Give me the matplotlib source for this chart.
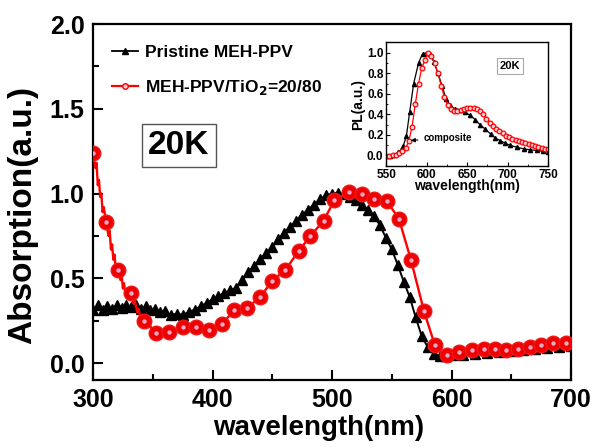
import matplotlib.pyplot as plt
from matplotlib.lines import Line2D
from matplotlib.ticker import MultipleLocator

plt.rcParams['font.family'] = ['Liberation Sans', 'DejaVu Sans']
plt.rcParams['font.weight'] = 'bold'
plt.rcParams['mathtext.default'] = 'bf'

# Main absorption spectra at 20K
pristine_nm = [300, 304, 308, 312, 316, 320, 324, 328, 332, 336, 340, 344, 348, 352, 356, 360,
               365, 370, 375, 380, 385, 390, 395, 400, 405, 410, 415, 420, 425, 430, 435, 440,
               445, 450, 455, 460, 465, 470, 475, 480, 485, 490, 495, 500, 505, 510, 515, 520,
               525, 530, 535, 540, 545, 550, 555, 560, 565, 570, 575, 580, 585, 590, 595, 600,
               610, 620, 630, 640, 650, 660, 670, 680, 690, 700]
pristine_abs = [0.31, 0.34, 0.31, 0.335, 0.32, 0.345, 0.325, 0.34, 0.33, 0.345, 0.32, 0.335, 0.31, 0.32,
                0.30, 0.305, 0.285, 0.29, 0.285, 0.30, 0.315, 0.335, 0.355, 0.375, 0.395, 0.415,
                0.43, 0.445, 0.49, 0.535, 0.575, 0.615, 0.65, 0.685, 0.73, 0.77, 0.805, 0.84, 0.875,
                0.905, 0.935, 0.965, 0.99, 1.0, 1.005, 0.995, 0.98, 0.96, 0.935, 0.90, 0.865, 0.815,
                0.74, 0.67, 0.58, 0.48, 0.39, 0.27, 0.16, 0.095, 0.055, 0.04, 0.04, 0.045,
                0.05, 0.055, 0.06, 0.065, 0.07, 0.075, 0.08, 0.09, 0.095, 0.10]

# composite: noisy trace on the left, circles every ~10 nm
comp_line_nm = [300, 302, 303, 304, 305, 306, 307, 308, 309, 311, 313, 314, 315, 316, 317, 318, 319,
                321, 323, 324, 325, 326, 327, 329, 331, 332, 334, 335, 337, 338, 340, 341, 343,
                346, 348, 350, 353]
comp_line_abs = [1.24, 1.15, 1.18, 1.05, 1.08, 0.98, 1.0, 0.89, 0.92, 0.83, 0.75, 0.78, 0.67, 0.70,
                 0.61, 0.64, 0.56, 0.55, 0.49, 0.52, 0.44, 0.47, 0.41, 0.44, 0.39, 0.415, 0.35, 0.37,
                 0.30, 0.32, 0.26, 0.28, 0.25, 0.21, 0.22, 0.18, 0.175]
comp_nm = [300, 311, 321, 332, 343, 353, 364, 375, 386, 397, 408, 418, 429, 440, 450, 461, 472,
           482, 493, 502, 514, 525, 535, 546, 556, 566, 577, 586, 596, 606, 617, 627, 636, 646,
           656, 666, 675, 685, 696]
comp_abs = [1.24, 0.83, 0.55, 0.415, 0.25, 0.175, 0.185, 0.215, 0.215, 0.195, 0.232, 0.31, 0.325,
            0.39, 0.485, 0.55, 0.66, 0.75, 0.84, 0.96, 1.01, 0.995, 0.97, 0.955, 0.85, 0.61, 0.305,
            0.107, 0.048, 0.067, 0.077, 0.081, 0.081, 0.077, 0.081, 0.097, 0.107, 0.117, 0.12]

# Inset PL spectra
pl_pristine_nm = [550, 555, 560, 565, 568, 571, 575, 579, 584, 590, 595, 600, 604, 609, 614, 619,
                  624, 629, 635, 642, 648, 654, 660, 666, 672, 679, 685, 691, 697, 703, 712, 720,
                  728, 736, 744, 750]
pl_pristine = [0.0, 0.0, 0.01, 0.03, 0.05, 0.09, 0.19, 0.42, 0.70, 0.90, 0.99, 1.0, 0.99, 0.91,
               0.80, 0.68, 0.55, 0.49, 0.455, 0.445, 0.42, 0.39, 0.35, 0.30, 0.26, 0.21, 0.17,
               0.145, 0.12, 0.10, 0.08, 0.065, 0.055, 0.05, 0.04, 0.035]
pl_comp_nm = [550, 554, 558, 562, 566, 570, 574, 578, 582, 586, 590, 594, 598, 602, 606, 610,
              614, 618, 622, 626, 630, 634, 638, 642, 646, 650, 654, 658, 662, 666, 670, 674,
              678, 682, 686, 690, 694, 698, 702, 706, 710, 714, 718, 722, 726, 730, 734, 738,
              742, 746, 750]
pl_comp = [0.0, 0.0, 0.005, 0.01, 0.02, 0.04, 0.07, 0.14, 0.28, 0.50, 0.70, 0.85, 0.93, 1.0, 0.97,
           0.90, 0.80, 0.68, 0.57, 0.49, 0.45, 0.43, 0.43, 0.44, 0.45, 0.46, 0.46, 0.46, 0.45,
           0.43, 0.40, 0.36, 0.32, 0.29, 0.26, 0.235, 0.215, 0.195, 0.18, 0.165, 0.15, 0.14,
           0.13, 0.12, 0.11, 0.10, 0.09, 0.085, 0.075, 0.065, 0.06]

fig = plt.figure(figsize=(5.95, 4.47), dpi=100)
ax = fig.add_axes([0.1563, 0.1499, 0.8034, 0.7964])

ax.plot(pristine_nm, pristine_abs, color='black', lw=1.4, marker='^', ms=7, zorder=2)
ax.plot(comp_line_nm + comp_nm[5:], comp_line_abs + comp_abs[5:], color='#ff0000', lw=1.7, zorder=3)
ax.plot(comp_nm, comp_abs, ls='none', marker='o', ms=10.5, mfc='#ee0000', mec='#f01818', mew=1,
        zorder=4)
ax.plot(comp_nm, comp_abs, ls='none', marker='o', ms=3.2, mfc='#e8a8c8', mec='none', zorder=5)

ax.set_xlim(300, 700)
ax.set_ylim(-0.1, 2.0)
ax.xaxis.set_major_locator(MultipleLocator(100))
ax.xaxis.set_minor_locator(MultipleLocator(50))
ax.yaxis.set_major_locator(MultipleLocator(0.5))
ax.yaxis.set_minor_locator(MultipleLocator(0.25))
ax.tick_params(which='both', direction='in', top=False, right=False, labelsize=18, width=1.5)
ax.tick_params(which='major', length=7)
ax.tick_params(which='minor', length=4)
ax.tick_params(axis='x', pad=6)
ax.tick_params(axis='y', pad=6)
for s in ax.spines.values():
    s.set_linewidth(1.6)
ax.set_xlabel('wavelength(nm)', fontsize=20, fontweight='bold')
ax.set_ylabel('Absorption(a.u.)', fontsize=24, fontweight='bold')
ax.xaxis.set_label_coords(0.473, -0.098)
ax.yaxis.set_label_coords(-0.115, 0.4635)

handles = [Line2D([], [], color='black', lw=1.3, marker='^', ms=4),
           Line2D([], [], color='#ff0000', lw=1.6, marker='o', ms=4, mfc='#f4c8e0', mec='#ff0000')]
ax.legend(handles, ['Pristine MEH-PPV', 'MEH-PPV/TiO$_2$=20/80'], loc='upper left',
          frameon=False, prop={'size': 12.5, 'weight': 'bold'}, handlelength=1.5,
          handletextpad=0.35, labelspacing=1.05, bbox_to_anchor=(0.008, 0.985))

ax.text(372, 1.285, '20K', fontsize=24, fontweight='bold', ha='center', va='center',
        bbox=dict(boxstyle='square,pad=0.18', fc='white', ec='#555555', lw=1))

# inset
ins = fig.add_axes([0.649, 0.629, 0.272, 0.276])
ins.plot(pl_pristine_nm, pl_pristine, color='black', lw=0.9, marker='^', ms=3)
ins.plot(pl_comp_nm, pl_comp, color='#ff0000', lw=0.9, marker='o', ms=3.4,
         mfc='#ffd0d8', mec='#ff0000', mew=0.9)
ins.set_xlim(550, 750)
ins.set_ylim(-0.1, 1.1)
ins.xaxis.set_major_locator(MultipleLocator(50))
ins.yaxis.set_major_locator(MultipleLocator(0.2))
ins.xaxis.set_minor_locator(MultipleLocator(25))
ins.yaxis.set_minor_locator(MultipleLocator(0.1))
ins.tick_params(which='both', direction='in', top=False, right=False, labelsize=8.5, pad=2)
ins.tick_params(which='major', length=3)
ins.tick_params(which='minor', length=1.5)
for s in ins.spines.values():
    s.set_linewidth(1.0)
ins.set_xlabel('wavelength(nm)', fontsize=10, fontweight='bold', labelpad=-1)
ins.set_ylabel('PL(a.u.)', fontsize=10, fontweight='bold', labelpad=1)
ins.text(703, 0.87, '20K', fontsize=8, fontweight='bold', ha='center', va='center',
         bbox=dict(boxstyle='square,pad=0.25', fc='white', ec='#aaaaaa', lw=0.8))
ins.annotate('composite', xy=(577, 0.145), xytext=(596, 0.17), fontsize=7, fontweight='bold',
             va='center', arrowprops=dict(arrowstyle='-|>', color='black', lw=0.8,
                                          mutation_scale=6))

fig.savefig('out.png', dpi=100)
